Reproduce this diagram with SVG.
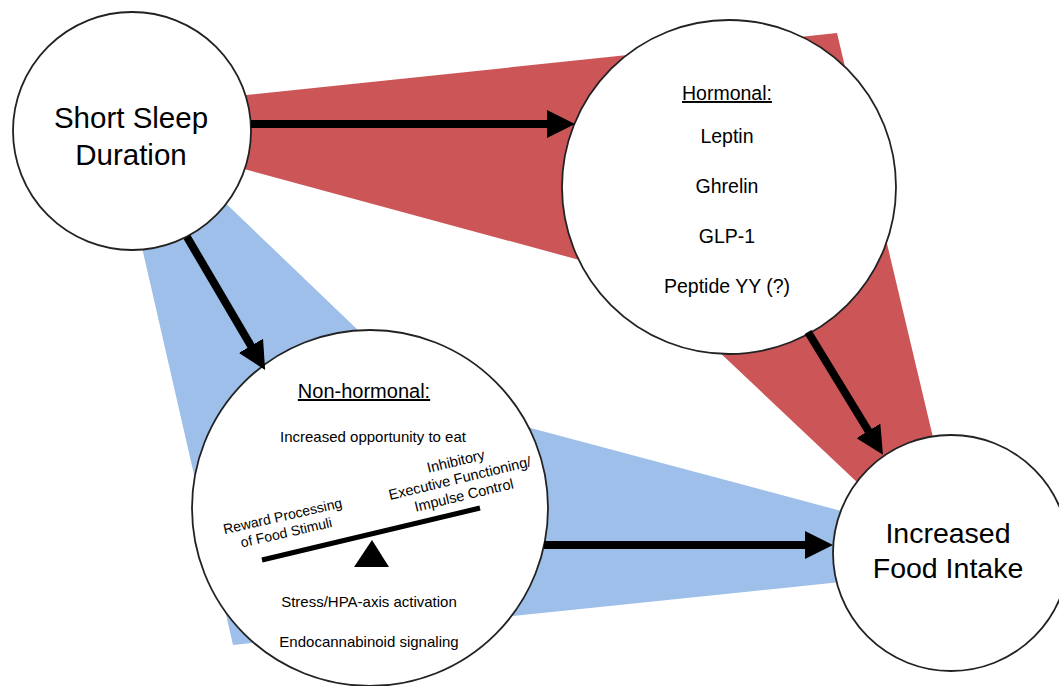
<svg xmlns="http://www.w3.org/2000/svg" width="1059" height="686" viewBox="0 0 1059 686">
<defs>
<style>
.node{fill:#fff;stroke:#222;stroke-width:1.8}
.t{font-family:"Liberation Sans",Arial,sans-serif;fill:#000;text-anchor:middle}
.u{text-decoration:underline}
.conn{stroke:#000;stroke-width:8;fill:none;marker-end:url(#ah)}
</style>
<marker id="ah" viewBox="0 0 28 28" refX="6" refY="14" markerWidth="28" markerHeight="28" markerUnits="userSpaceOnUse" orient="auto"><path d="M0,0 L28,14 L0,28 z" fill="#000"/></marker>
</defs>
<rect width="1059" height="686" fill="#fff"/>
<g id="bands">
<polygon fill="#CC5558" points="200,100 837,33 936,450 860,485 680,315 620,271 200,157"/>
<polygon fill="#9EBFE9" points="138,230 215,193 433,402 860,516 860,580 233,645"/>
</g>
<g id="short-sleep">
<circle class="node" cx="132" cy="131" r="119"/>
<text class="t" x="131" y="128" font-size="29.5">Short Sleep</text>
<text class="t" x="131" y="165" font-size="29.5">Duration</text>
</g>
<g id="hormonal">
<circle class="node" cx="729" cy="187" r="167"/>
<text class="t u" x="727" y="100" font-size="19.5">Hormonal:</text>
<text class="t" x="727" y="143" font-size="19.5">Leptin</text>
<text class="t" x="727" y="193" font-size="19.5">Ghrelin</text>
<text class="t" x="727" y="243" font-size="19.5">GLP-1</text>
<text class="t" x="727" y="293" font-size="19.5">Peptide YY (?)</text>
</g>
<g id="non-hormonal">
<circle class="node" cx="370" cy="508" r="178"/>
<text class="t u" x="364" y="398" font-size="20">Non-hormonal:</text>
<text class="t" x="373" y="442" font-size="15">Increased opportunity to eat</text>
<g transform="translate(285.5,529) rotate(-12.8)">
<text class="t" x="0" y="-8.4" font-size="14">Reward Processing</text>
<text class="t" x="0" y="8.4" font-size="14">of Food Stimuli</text>
</g>
<g transform="translate(461,483) rotate(-13.5)">
<text class="t" x="0" y="-17.5" font-size="14.5">Inhibitory</text>
<text class="t" x="0" y="0" font-size="14.5">Executive Functioning/</text>
<text class="t" x="0" y="17.5" font-size="14.5">Impulse Control</text>
</g>
<line x1="262" y1="560" x2="480" y2="508" stroke="#000" stroke-width="5"/>
<polygon points="372,540 354,567 389,567" fill="#000"/>
<text class="t" x="369" y="607" font-size="15">Stress/HPA-axis activation</text>
<text class="t" x="369" y="647" font-size="15">Endocannabinoid signaling</text>
</g>
<g id="food-intake">
<circle class="node" cx="951" cy="553" r="118"/>
<text class="t" x="948" y="543" font-size="28.5">Increased</text>
<text class="t" x="948" y="578" font-size="28.5">Food Intake</text>
</g>
<g id="connectors">
<line class="conn" x1="251" y1="124" x2="553" y2="124"/>
<line class="conn" x1="187" y1="237" x2="254" y2="351"/>
<line class="conn" x1="808" y1="332" x2="871.5" y2="436"/>
<line class="conn" x1="544" y1="545" x2="811" y2="545"/>
</g>
</svg>
